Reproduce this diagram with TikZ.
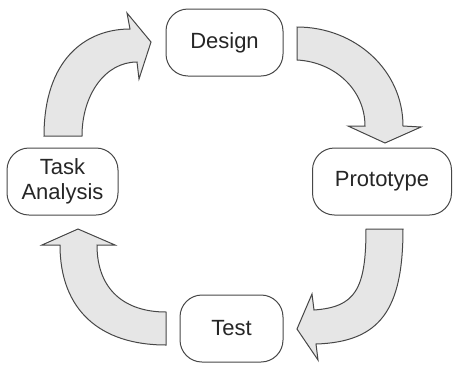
\documentclass[tikz,border=0pt]{standalone}
\usepackage{fontspec}
\setmainfont{Liberation Sans}
\definecolor{edge}{HTML}{474747}
\definecolor{txt}{HTML}{262626}
\definecolor{arrowfill}{HTML}{E6E6E6}
\begin{document}
\begin{tikzpicture}[x=1pt,y=-1pt,
  stagebox/.style={draw=edge, line width=1pt, rounded corners=22pt, fill=white,
    text=txt, font=\fontsize{22}{25}\selectfont, align=center, inner sep=0pt},
  blockarrow/.style={draw=edge, line width=1pt, fill=arrowfill, line join=miter}]
\useasboundingbox (0,0) rectangle (453,365);
% stages
\node[stagebox, minimum width=117pt, minimum height=67pt] (design) at (224.5,42.5) {Design};
\node[stagebox, minimum width=139pt, minimum height=67pt] (proto) at (382,181.5) {Prototype};
\node[stagebox, minimum width=103pt, minimum height=67pt] (test) at (231.5,328.5) {Test};
\node[stagebox, minimum width=111pt, minimum height=67pt] (task) at (62.5,181.5) {Task\\Analysis};
% Task -> Design
\draw[blockarrow] (44,136) -- (82,136)
  .. controls (82,95) and (105,62) .. (137,62)
  -- (139,79) -- (151,42) -- (127,13) -- (130,29)
  .. controls (85,29) and (44,60) .. (44,136) -- cycle;
% Design -> Prototype
\draw[blockarrow] (297,27)
  .. controls (355,27) and (403,70) .. (403,126)
  -- (421,127) -- (385,143) -- (348,126) -- (365,126)
  .. controls (365,90) and (335,62) .. (297,60) -- cycle;
% Prototype -> Test
\draw[blockarrow] (366,229) -- (403,229)
  .. controls (403,310) and (380,342) .. (316,344)
  -- (318,360) -- (297,329) -- (312,294) -- (314,310)
  .. controls (355,307) and (366,290) .. (366,229) -- cycle;
% Test -> Task Analysis
\draw[blockarrow] (166,312) -- (166,345)
  .. controls (100,345) and (60,310) .. (60,245)
  -- (42,245) -- (78,229) -- (115,245) -- (97,245)
  .. controls (97,290) and (125,312) .. (166,312) -- cycle;
\end{tikzpicture}
\end{document}
